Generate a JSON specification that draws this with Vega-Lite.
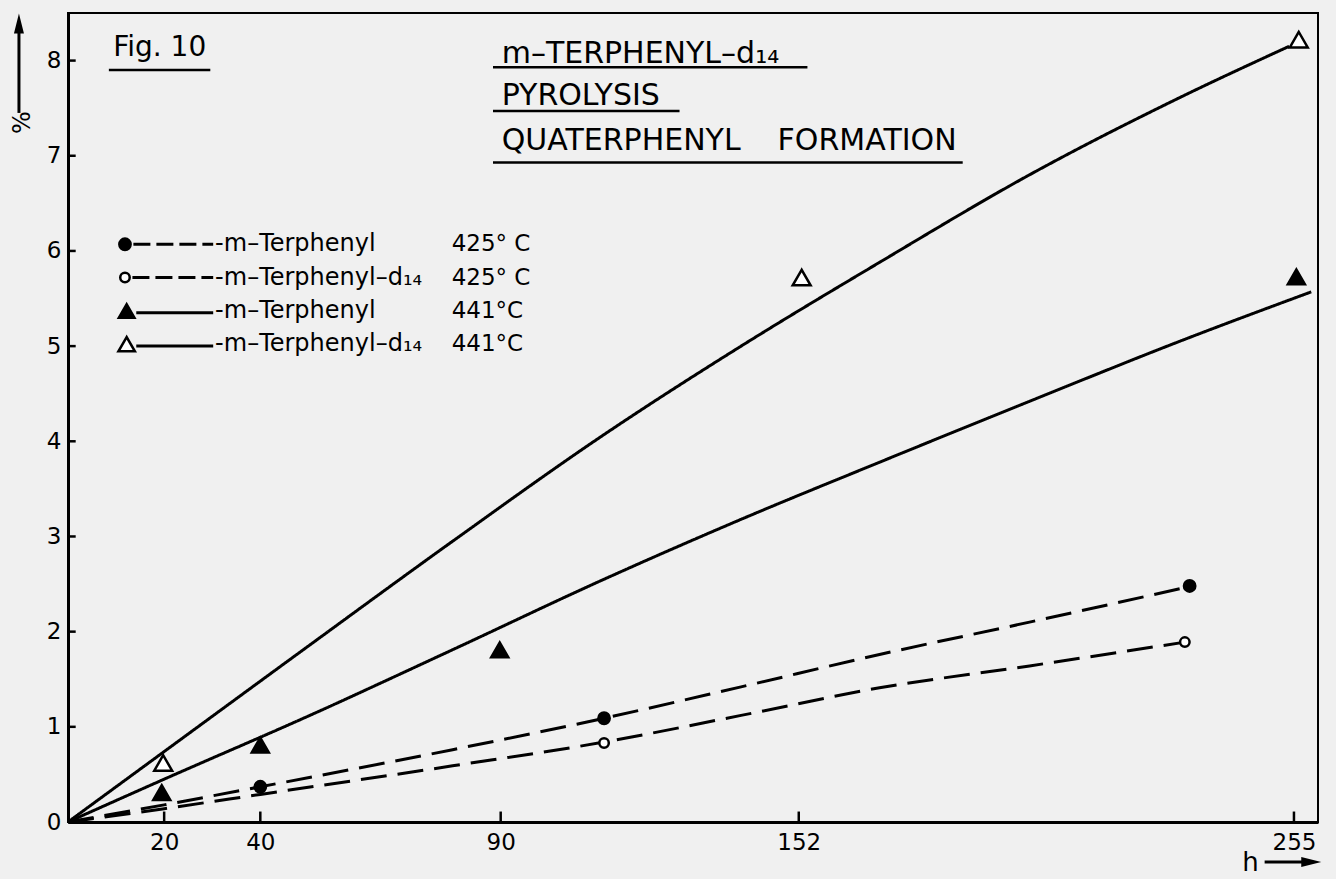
{
  "$schema": "https://vega.github.io/schema/vega-lite/v6.json",
  "width": 1250,
  "height": 809,
  "autosize": {"type": "none"},
  "padding": {"left": 68, "top": 13, "right": 18, "bottom": 57},
  "background": "#f0f0f0",
  "config": {
    "view": {"stroke": "black", "strokeWidth": 2},
    "font": "DejaVu Sans",
    "text": {"font": "DejaVu Sans", "color": "black"}
  },
  "datasets": {
    "curves": [
      {"series": "m-Terphenyl 425°C", "h": 0, "pct": 0},
      {"series": "m-Terphenyl 425°C", "h": 20, "pct": 0.18},
      {"series": "m-Terphenyl 425°C", "h": 40, "pct": 0.37},
      {"series": "m-Terphenyl 425°C", "h": 80, "pct": 0.76},
      {"series": "m-Terphenyl 425°C", "h": 111.5, "pct": 1.09},
      {"series": "m-Terphenyl 425°C", "h": 140, "pct": 1.42},
      {"series": "m-Terphenyl 425°C", "h": 168.8, "pct": 1.76},
      {"series": "m-Terphenyl 425°C", "h": 200, "pct": 2.1},
      {"series": "m-Terphenyl 425°C", "h": 233, "pct": 2.47},
      {"series": "m-Terphenyl-d14 425°C", "h": 0, "pct": 0},
      {"series": "m-Terphenyl-d14 425°C", "h": 20, "pct": 0.14},
      {"series": "m-Terphenyl-d14 425°C", "h": 40, "pct": 0.29},
      {"series": "m-Terphenyl-d14 425°C", "h": 80, "pct": 0.59},
      {"series": "m-Terphenyl-d14 425°C", "h": 111.5, "pct": 0.84},
      {"series": "m-Terphenyl-d14 425°C", "h": 140, "pct": 1.12},
      {"series": "m-Terphenyl-d14 425°C", "h": 168.8, "pct": 1.41},
      {"series": "m-Terphenyl-d14 425°C", "h": 200, "pct": 1.64},
      {"series": "m-Terphenyl-d14 425°C", "h": 232.3, "pct": 1.89},
      {"series": "m-Terphenyl 441°C", "h": 0, "pct": 0},
      {"series": "m-Terphenyl 441°C", "h": 20, "pct": 0.45},
      {"series": "m-Terphenyl 441°C", "h": 50.3, "pct": 1.12},
      {"series": "m-Terphenyl 441°C", "h": 80, "pct": 1.81},
      {"series": "m-Terphenyl 441°C", "h": 110.6, "pct": 2.53},
      {"series": "m-Terphenyl 441°C", "h": 140, "pct": 3.18},
      {"series": "m-Terphenyl 441°C", "h": 168.8, "pct": 3.78},
      {"series": "m-Terphenyl 441°C", "h": 200, "pct": 4.42},
      {"series": "m-Terphenyl 441°C", "h": 231.2, "pct": 5.05},
      {"series": "m-Terphenyl 441°C", "h": 258.6, "pct": 5.57},
      {"series": "m-Terphenyl-d14 441°C", "h": 0, "pct": 0},
      {"series": "m-Terphenyl-d14 441°C", "h": 20, "pct": 0.74},
      {"series": "m-Terphenyl-d14 441°C", "h": 50.3, "pct": 1.86},
      {"series": "m-Terphenyl-d14 441°C", "h": 80, "pct": 2.95},
      {"series": "m-Terphenyl-d14 441°C", "h": 110.6, "pct": 4.04},
      {"series": "m-Terphenyl-d14 441°C", "h": 140, "pct": 5.0},
      {"series": "m-Terphenyl-d14 441°C", "h": 168.8, "pct": 5.88},
      {"series": "m-Terphenyl-d14 441°C", "h": 200, "pct": 6.8},
      {"series": "m-Terphenyl-d14 441°C", "h": 231.2, "pct": 7.61},
      {"series": "m-Terphenyl-d14 441°C", "h": 254, "pct": 8.15}
    ],
    "points": [
      {"series": "m-Terphenyl 425°C", "h": 40, "pct": 0.37},
      {"series": "m-Terphenyl 425°C", "h": 111.5, "pct": 1.09},
      {"series": "m-Terphenyl 425°C", "h": 233.3, "pct": 2.48},
      {"series": "m-Terphenyl-d14 425°C", "h": 111.5, "pct": 0.83},
      {"series": "m-Terphenyl-d14 425°C", "h": 232.3, "pct": 1.89},
      {"series": "m-Terphenyl 441°C", "h": 19.5, "pct": 0.31},
      {"series": "m-Terphenyl 441°C", "h": 40, "pct": 0.81},
      {"series": "m-Terphenyl 441°C", "h": 89.8, "pct": 1.81},
      {"series": "m-Terphenyl 441°C", "h": 255.5, "pct": 5.73},
      {"series": "m-Terphenyl-d14 441°C", "h": 19.8, "pct": 0.62},
      {"series": "m-Terphenyl-d14 441°C", "h": 152.6, "pct": 5.72},
      {"series": "m-Terphenyl-d14 441°C", "h": 256, "pct": 8.22}
    ],
    "xticks": [{"v": 20}, {"v": 40}, {"v": 90}, {"v": 152}, {"v": 255}],
    "yticks": [{"v": 1}, {"v": 2}, {"v": 3}, {"v": 4}, {"v": 5}, {"v": 6}, {"v": 7}, {"v": 8}],
    "one": [{}]
  },
  "layer": [
    {
      "data": {"name": "curves"},
      "mark": {"type": "line", "interpolate": "monotone", "strokeWidth": 3, "color": "black"},
      "encoding": {
        "x": {
          "field": "h", "type": "quantitative",
          "scale": {"domain": [0, 260], "nice": false},
          "axis": {
            "values": [20, 40, 90, 152, 255],
            "title": "h",
            "titleX": 1182, "titleY": 40,
            "titleAlign": "center", "titleBaseline": "middle", "titleAngle": 0,
            "titleFontSize": 26, "titleFontWeight": "normal", "titleColor": "black",
            "ticks": false,
            "labelFontSize": 23, "labelColor": "black", "labelPadding": 9,
            "domainWidth": 3, "domainColor": "black", "grid": false
          }
        },
        "y": {
          "field": "pct", "type": "quantitative",
          "scale": {"domain": [0, 8.5], "nice": false},
          "axis": {
            "values": [0, 1, 2, 3, 4, 5, 6, 7, 8],
            "format": "d",
            "title": "%",
            "titleX": -46, "titleY": 109,
            "titleAlign": "center", "titleBaseline": "middle",
            "titleFontSize": 24, "titleFontWeight": "normal", "titleColor": "black",
            "ticks": false,
            "labelFontSize": 23, "labelColor": "black", "labelPadding": 7,
            "domainWidth": 3, "domainColor": "black", "grid": false
          }
        },
        "detail": {"field": "series"},
        "strokeDash": {
          "field": "series", "type": "nominal",
          "scale": {
            "domain": ["m-Terphenyl 425°C", "m-Terphenyl-d14 425°C", "m-Terphenyl 441°C", "m-Terphenyl-d14 441°C"],
            "range": [[26, 11], [26, 11], [1, 0], [1, 0]]
          },
          "legend": null
        }
      }
    },
    {
      "data": {"name": "xticks"},
      "mark": {"type": "rule", "stroke": "black", "strokeWidth": 2.5},
      "encoding": {"x": {"field": "v", "type": "quantitative"}, "y": {"datum": 0}, "y2": {"datum": 0.11}}
    },
    {
      "data": {"name": "yticks"},
      "mark": {"type": "rule", "stroke": "black", "strokeWidth": 2.5},
      "encoding": {"y": {"field": "v", "type": "quantitative"}, "x": {"datum": 0}, "x2": {"datum": 1.6}}
    },
    {
      "data": {"name": "points"},
      "transform": [{"filter": "datum.series === 'm-Terphenyl 425°C'"}],
      "mark": {"type": "point", "shape": "circle", "filled": true, "fill": "black", "stroke": "black", "strokeWidth": 2, "size": 140, "opacity": 1},
      "encoding": {"x": {"field": "h", "type": "quantitative"}, "y": {"field": "pct", "type": "quantitative"}}
    },
    {
      "data": {"name": "points"},
      "transform": [{"filter": "datum.series === 'm-Terphenyl-d14 425°C'"}],
      "mark": {"type": "point", "shape": "circle", "filled": true, "fill": "white", "stroke": "black", "strokeWidth": 2.5, "size": 90, "opacity": 1},
      "encoding": {"x": {"field": "h", "type": "quantitative"}, "y": {"field": "pct", "type": "quantitative"}}
    },
    {
      "data": {"name": "points"},
      "transform": [{"filter": "datum.series === 'm-Terphenyl 441°C'"}],
      "mark": {"type": "point", "shape": "triangle-up", "filled": true, "fill": "black", "stroke": "black", "strokeWidth": 2, "size": 320, "opacity": 1},
      "encoding": {"x": {"field": "h", "type": "quantitative"}, "y": {"field": "pct", "type": "quantitative"}}
    },
    {
      "data": {"name": "points"},
      "transform": [{"filter": "datum.series === 'm-Terphenyl-d14 441°C'"}],
      "mark": {"type": "point", "shape": "triangle-up", "filled": true, "fill": "white", "stroke": "black", "strokeWidth": 2.5, "size": 320, "opacity": 1},
      "encoding": {"x": {"field": "h", "type": "quantitative"}, "y": {"field": "pct", "type": "quantitative"}}
    },

    {"data": {"name": "one"}, "mark": {"type": "point", "shape": "circle", "filled": true, "fill": "black", "stroke": "black", "strokeWidth": 2, "size": 140, "opacity": 1},
     "encoding": {"x": {"datum": 11.85}, "y": {"datum": 6.07}}},
    {"data": {"name": "one"}, "mark": {"type": "point", "shape": "circle", "filled": true, "fill": "white", "stroke": "black", "strokeWidth": 2.5, "size": 90, "opacity": 1},
     "encoding": {"x": {"datum": 11.85}, "y": {"datum": 5.72}}},
    {"data": {"name": "one"}, "mark": {"type": "point", "shape": "triangle-up", "filled": true, "fill": "black", "stroke": "black", "strokeWidth": 2, "size": 270, "opacity": 1},
     "encoding": {"x": {"datum": 12.2}, "y": {"datum": 5.37}}},
    {"data": {"name": "one"}, "mark": {"type": "point", "shape": "triangle-up", "filled": true, "fill": "white", "stroke": "black", "strokeWidth": 2.5, "size": 270, "opacity": 1},
     "encoding": {"x": {"datum": 12.2}, "y": {"datum": 5.02}}},

    {"data": {"name": "one"}, "mark": {"type": "rule", "stroke": "black", "strokeWidth": 3, "strokeDash": [17, 6]},
     "encoding": {"x": {"datum": 13.6}, "x2": {"datum": 30.2}, "y": {"datum": 6.07}}},
    {"data": {"name": "one"}, "mark": {"type": "rule", "stroke": "black", "strokeWidth": 3, "strokeDash": [17, 6]},
     "encoding": {"x": {"datum": 13.4}, "x2": {"datum": 30.2}, "y": {"datum": 5.72}}},
    {"data": {"name": "one"}, "mark": {"type": "rule", "stroke": "black", "strokeWidth": 3},
     "encoding": {"x": {"datum": 14.2}, "x2": {"datum": 30.2}, "y": {"datum": 5.35}}},
    {"data": {"name": "one"}, "mark": {"type": "rule", "stroke": "black", "strokeWidth": 3},
     "encoding": {"x": {"datum": 14.2}, "x2": {"datum": 30.2}, "y": {"datum": 5.0}}},

    {"data": {"name": "one"}, "mark": {"type": "text", "align": "left", "baseline": "middle", "fontSize": 24},
     "encoding": {"x": {"datum": 30.6}, "y": {"datum": 6.07}, "text": {"value": "-m–Terphenyl"}}},
    {"data": {"name": "one"}, "mark": {"type": "text", "align": "left", "baseline": "middle", "fontSize": 24},
     "encoding": {"x": {"datum": 30.6}, "y": {"datum": 5.72}, "text": {"value": "-m–Terphenyl–d₁₄"}}},
    {"data": {"name": "one"}, "mark": {"type": "text", "align": "left", "baseline": "middle", "fontSize": 24},
     "encoding": {"x": {"datum": 30.6}, "y": {"datum": 5.37}, "text": {"value": "-m–Terphenyl"}}},
    {"data": {"name": "one"}, "mark": {"type": "text", "align": "left", "baseline": "middle", "fontSize": 24},
     "encoding": {"x": {"datum": 30.6}, "y": {"datum": 5.02}, "text": {"value": "-m–Terphenyl–d₁₄"}}},
    {"data": {"name": "one"}, "mark": {"type": "text", "align": "left", "baseline": "middle", "fontSize": 23},
     "encoding": {"x": {"datum": 79.8}, "y": {"datum": 6.07}, "text": {"value": "425° C"}}},
    {"data": {"name": "one"}, "mark": {"type": "text", "align": "left", "baseline": "middle", "fontSize": 23},
     "encoding": {"x": {"datum": 79.8}, "y": {"datum": 5.72}, "text": {"value": "425° C"}}},
    {"data": {"name": "one"}, "mark": {"type": "text", "align": "left", "baseline": "middle", "fontSize": 23},
     "encoding": {"x": {"datum": 79.8}, "y": {"datum": 5.37}, "text": {"value": "441°C"}}},
    {"data": {"name": "one"}, "mark": {"type": "text", "align": "left", "baseline": "middle", "fontSize": 23},
     "encoding": {"x": {"datum": 79.8}, "y": {"datum": 5.02}, "text": {"value": "441°C"}}},

    {"data": {"name": "one"}, "mark": {"type": "text", "align": "left", "baseline": "middle", "fontSize": 28},
     "encoding": {"x": {"datum": 9.4}, "y": {"datum": 8.13}, "text": {"value": "Fig. 10"}}},
    {"data": {"name": "one"}, "mark": {"type": "rule", "stroke": "black", "strokeWidth": 2.5},
     "encoding": {"x": {"datum": 8.5}, "x2": {"datum": 29.6}, "y": {"datum": 7.9}}},
    {"data": {"name": "one"}, "mark": {"type": "text", "align": "left", "baseline": "middle", "fontSize": 30},
     "encoding": {"x": {"datum": 90.2}, "y": {"datum": 8.07}, "text": {"value": "m–TERPHENYL–d₁₄"}}},
    {"data": {"name": "one"}, "mark": {"type": "rule", "stroke": "black", "strokeWidth": 2.5},
     "encoding": {"x": {"datum": 88.4}, "x2": {"datum": 153.8}, "y": {"datum": 7.93}}},
    {"data": {"name": "one"}, "mark": {"type": "text", "align": "left", "baseline": "middle", "fontSize": 30},
     "encoding": {"x": {"datum": 90.2}, "y": {"datum": 7.63}, "text": {"value": "PYROLYSIS"}}},
    {"data": {"name": "one"}, "mark": {"type": "rule", "stroke": "black", "strokeWidth": 2.5},
     "encoding": {"x": {"datum": 88.4}, "x2": {"datum": 127.2}, "y": {"datum": 7.47}}},
    {"data": {"name": "one"}, "mark": {"type": "text", "align": "left", "baseline": "middle", "fontSize": 30},
     "encoding": {"x": {"datum": 90.2}, "y": {"datum": 7.16}, "text": {"value": "QUATERPHENYL"}}},
    {"data": {"name": "one"}, "mark": {"type": "text", "align": "left", "baseline": "middle", "fontSize": 30},
     "encoding": {"x": {"datum": 147.6}, "y": {"datum": 7.16}, "text": {"value": "FORMATION"}}},
    {"data": {"name": "one"}, "mark": {"type": "rule", "stroke": "black", "strokeWidth": 2.5},
     "encoding": {"x": {"datum": 88.4}, "x2": {"datum": 186.1}, "y": {"datum": 6.93}}},

    {"data": {"name": "one"}, "mark": {"type": "rule", "stroke": "black", "strokeWidth": 3, "clip": false},
     "encoding": {"x": {"datum": -10.2}, "y": {"datum": 7.45}, "y2": {"datum": 8.3}}},
    {"data": {"name": "one"}, "mark": {"type": "point", "shape": "M 0 -1 L 0.5 1 L -0.5 1 Z", "filled": true, "fill": "black", "size": 400, "opacity": 1, "clip": false},
     "encoding": {"x": {"datum": -10.2}, "y": {"datum": 8.39}}},
    {"data": {"name": "one"}, "mark": {"type": "rule", "stroke": "black", "strokeWidth": 3, "clip": false},
     "encoding": {"x": {"datum": 248.9}, "x2": {"datum": 257.0}, "y": {"datum": -0.42}}},
    {"data": {"name": "one"}, "mark": {"type": "point", "shape": "M 1 0 L -1 -0.5 L -1 0.5 Z", "filled": true, "fill": "black", "size": 400, "opacity": 1, "clip": false},
     "encoding": {"x": {"datum": 258.6}, "y": {"datum": -0.42}}}
  ]
}
